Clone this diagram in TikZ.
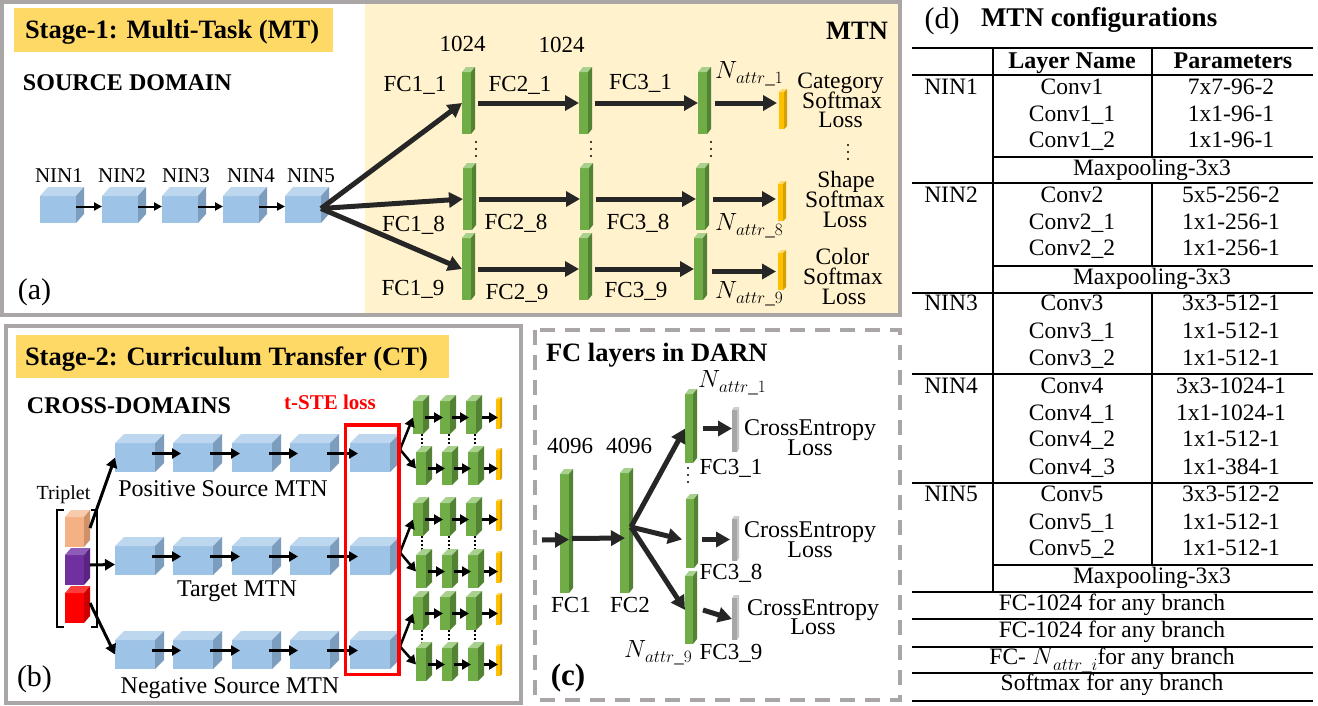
\documentclass[tikz,border=0pt]{standalone}
\usepackage{amsmath}
\usepackage{fontspec}
\setmainfont{Liberation Serif}
\usetikzlibrary{arrows.meta}

\definecolor{bordergray}{RGB}{170,166,166}
\definecolor{hdr}{RGB}{255,217,102}
\definecolor{mtnbg}{RGB}{255,242,204}
\definecolor{bluefront}{RGB}{157,195,230}
\definecolor{bluetop}{RGB}{189,215,238}
\definecolor{blueside}{RGB}{125,157,190}
\definecolor{greenfront}{RGB}{112,173,71}
\definecolor{greentop}{RGB}{169,209,142}
\definecolor{greenside}{RGB}{84,130,53}
\definecolor{yelfront}{RGB}{255,192,0}
\definecolor{yeltop}{RGB}{255,217,102}
\definecolor{yelside}{RGB}{214,160,0}
\definecolor{grayfront}{RGB}{166,166,166}
\definecolor{graytop}{RGB}{205,205,205}
\definecolor{grayside}{RGB}{196,196,196}
\definecolor{orgfront}{RGB}{244,177,131}
\definecolor{orgtop}{RGB}{248,203,173}
\definecolor{orgside}{RGB}{207,145,105}
\definecolor{purfront}{RGB}{112,48,160}
\definecolor{purtop}{RGB}{142,92,184}
\definecolor{purside}{RGB}{90,36,130}
\definecolor{redfront}{RGB}{255,0,0}
\definecolor{redtop}{RGB}{255,60,60}
\definecolor{redside}{RGB}{204,0,0}
\definecolor{darkarrow}{RGB}{38,38,38}

% name, x, y, w, h, dx, dy, colour set
\newcommand{\mkblock}[8]{%
  \node[inner sep=0pt, outer sep=0pt, minimum width=#4pt, minimum height=#5pt, fill=#8front, anchor=north west] (#1) at (#2,#3) {};
  \fill[#8top] (#1.north west) -- ++(#6,-#7) -- ++(#4,0) -- (#1.north east) -- cycle;
  \fill[#8side] (#1.north east) -- ++(#6,-#7) -- ++(0,#5) -- (#1.south east) -- cycle;
}
\newcommand{\Nattr}[1]{$N$\kern-1pt\raisebox{-5.5pt}{\fontsize{19}{19}\selectfont$attr\_#1$}}

\tikzset{
  lbl/.style={inner sep=0pt, outer sep=0pt, text depth=0pt},
  fA/.style={lbl, font=\fontsize{20}{20}\selectfont, text height=13.2pt},
  fB/.style={lbl, font=\fontsize{21}{21}\selectfont, text height=13.9pt},
  fC/.style={lbl, font=\fontsize{23}{23}\selectfont, text height=15.2pt},
  fD/.style={lbl, font=\fontsize{23.5}{23.5}\selectfont, text height=15.6pt},
  fE/.style={lbl, font=\fontsize{24}{24}\selectfont, text height=15.9pt},
  fP/.style={lbl, font=\fontsize{30}{30}\selectfont, text height=19.9pt},
  bB/.style={lbl, font=\fontsize{21}{21}\selectfont\bfseries, text height=14.2pt},
  bE/.style={lbl, font=\fontsize{24}{24}\selectfont\bfseries, text height=16.2pt},
  bF/.style={lbl, font=\fontsize{26.5}{26.5}\selectfont\bfseries, text height=17.9pt},
  bG/.style={lbl, font=\fontsize{27}{27}\selectfont\bfseries, text height=18.3pt},
  bP/.style={lbl, font=\fontsize{31}{31}\selectfont\bfseries, text height=21pt},
  mth/.style={inner sep=0pt, outer sep=0pt, font=\fontsize{24}{24}\selectfont, anchor=base west},
  arrA/.style={-{Triangle[length=8pt,width=8pt]}, line width=2pt, black},
  arrB/.style={-{Triangle[length=9pt,width=10pt]}, line width=2.5pt, black},
  arrTri/.style={-{Triangle[length=10pt,width=11pt]}, line width=3pt, black},
  arrT/.style={-{Triangle[length=14pt,width=15pt]}, line width=5pt, darkarrow},
  dotln/.style={black, line width=1.5pt, dash pattern=on 1.5pt off 2.5pt},
  hrule/.style={black, line width=1.6pt},
  vrule/.style={black, line width=1.3pt},
}

\begin{document}
\begin{tikzpicture}[x=1pt,y=-1pt]
\useasboundingbox (0,0) rectangle (1318,705);
\fill[white] (0,0) rectangle (1318,705);

% ================= Panel (a) =================
\fill[mtnbg] (365,4) rectangle (898,313);
\draw[bordergray, line width=4pt] (2,2) rectangle (900,315);
\fill[hdr] (14,8) rectangle (333,52);
\node[bF, anchor=west] (h1) at (25,30) {Stage-1: Multi-Task (MT)};
\node[bE, anchor=west] (sd) at (23,82) {SOURCE DOMAIN};
\node[bF] (mtn) at (857,31) {MTN};
\node[fP] (la) at (34.5,290) {(a)};

\foreach \i/\x in {1/40,2/102,3/162,4/223,5/285} {\mkblock{n\i}{\x}{196}{36}{27}{8}{9}{blue}}
\foreach \i/\x in {1/59,2/122,3/186,4/251,5/311} {\node[fB] (nl\i) at (\x,176) {NIN\i};}
\foreach \i/\j in {1/2,2/3,3/4,4/5} {\draw[arrA] ([yshift=3pt]n\i.east) -- ([yshift=3pt]n\j.west);}

% FC bars
\mkblock{fa1}{462}{72}{9}{62}{4}{5}{green}
\mkblock{fb1}{579}{72}{9}{62}{4}{5}{green}
\mkblock{fc1}{698}{72}{9}{62}{4}{5}{green}
\mkblock{fa8}{463}{168}{9}{62}{4}{5}{green}
\mkblock{fb8}{580}{168}{9}{62}{4}{5}{green}
\mkblock{fc8}{696}{168}{9}{62}{4}{5}{green}
\mkblock{fa9}{462}{238}{9}{62}{4}{5}{green}
\mkblock{fb9}{579}{238}{9}{62}{4}{5}{green}
\mkblock{fc9}{694}{238}{9}{62}{4}{5}{green}
\mkblock{ls1}{779}{92}{5}{37}{3}{3}{yel}
\mkblock{ls8}{778}{184}{5}{37}{3}{3}{yel}
\mkblock{ls9}{778}{253}{5}{37}{3}{3}{yel}

\draw[arrT] ([yshift=1pt]n5.east) -- (fa1.west);
\draw[arrT] ([yshift=1pt]n5.east) -- (fa8.west);
\draw[arrT] ([yshift=1pt]n5.east) -- (fa9.west);
\foreach \r in {1,8,9} {
  \draw[arrT] ([xshift=7pt]fa\r.east) -- (fb\r.west);
  \draw[arrT] ([xshift=7pt]fb\r.east) -- (fc\r.west);
}
\coordinate (e1) at (ls1.west |- fc1.east);
\coordinate (e8) at (ls8.west |- fc8.east);
\coordinate (s9) at (fc9.east |- ls9.west);
\draw[arrT] ([xshift=8pt]fc1.east) -- ([xshift=-2pt]e1);
\draw[arrT] ([xshift=8pt]fc8.east) -- ([xshift=-2pt]e8);
\draw[arrT] ([xshift=9pt]s9) -- ([xshift=-2pt]ls9.west);

\foreach \x in {476,591,711} {\foreach \y in {142,149,156} {\fill (\x,\y) circle (1.1);}}
\foreach \y in {145,152,159} {\fill (848,\y) circle (1.1);}

\node[fC] (k1) at (462.5,43.5) {1024};
\node[fC] (k2) at (561.5,45) {1024};
\node[fC] (l11) at (415,84) {FC1\_1};
\node[fC] (l21) at (520,84) {FC2\_1};
\node[fC] (l31) at (640.5,82) {FC3\_1};
\node[fC] (l18) at (413.5,223.5) {FC1\_8};
\node[fC] (l28) at (516,222) {FC2\_8};
\node[fC] (l38) at (638,222) {FC3\_8};
\node[fC] (l19) at (413,288) {FC1\_9};
\node[fC] (l29) at (517,292) {FC2\_9};
\node[fC] (l39) at (636,290) {FC3\_9};
\node[mth] (na1) at (715,78) {\Nattr{1}};
\node[mth] (na8) at (715,230) {\Nattr{8}};
\node[mth] (na9) at (715,298) {\Nattr{9}};
\node[fD] (c1a) at (840.5,81) {Category};
\node[fD] (c1b) at (842,100.5) {Softmax};
\node[fD] (c1c) at (840.5,120) {Loss};
\node[fD] (c8a) at (846,180) {Shape};
\node[fD] (c8b) at (845,200) {Softmax};
\node[fD] (c8c) at (845,220) {Loss};
\node[fD] (c9a) at (842.5,257) {Color};
\node[fD] (c9b) at (843,277) {Softmax};
\node[fD] (c9c) at (844,297) {Loss};

% ================= Panel (b) =================
\draw[bordergray, line width=4pt] (6,326) rectangle (521,703);
\fill[hdr] (16,335) rectangle (449,378);
\node[bF, anchor=west] (h2) at (25,357) {Stage-2: Curriculum Transfer (CT)};
\node[bE, anchor=west] (cdm) at (27,405) {CROSS-DOMAINS};
\node[bB, text=red] (tste) at (330,402.5) {t-STE loss};
\node[fP] (lb) at (34.5,677) {(b)};

\foreach \r/\y in {1/443,2/546,3/640} {
  \foreach \i/\x in {1/115,2/173,3/232,4/290,5/350} {\mkblock{c\r\i}{\x}{\y}{40}{29}{9}{9}{blue}}
  \foreach \i/\j in {1/2,2/3,3/4,4/5} {\draw[arrB] ([xshift=-3pt,yshift=4pt]c\r\i.east) -- ([xshift=8pt,yshift=4pt]c\r\j.west);}
}
\node[fE] (pos) at (223,489) {Positive Source MTN};
\node[fE] (tgt) at (237,589) {Target MTN};
\node[fE] (neg) at (230,686) {Negative Source MTN};

% triplet
\node[fA] (tp) at (63.5,493) {Triplet};
\mkblock{t1}{65}{517}{19}{30}{6}{7}{org}
\mkblock{t2}{65}{555}{19}{30}{6}{7}{pur}
\mkblock{t3}{65}{593}{19}{30}{6}{7}{red}
\draw[line width=2.5pt] (64,510) -- (57,510) -- (57,627) -- (64,627);
\draw[line width=2.5pt] (91,510) -- (97,510) -- (97,627) -- (91,627);
\draw[arrTri] ([xshift=6pt,yshift=4pt]t1.east) -- (c11.west);
\draw[arrTri] ([xshift=6pt,yshift=5pt]t2.east) -- ([yshift=-4pt]c21.west);
\draw[arrTri] ([xshift=6pt,yshift=5pt]t3.east) -- (c31.west);

% green branches
\foreach \g/\ya/\yb in {1/401/452,2/503/555,3/597/648} {
  \foreach \i/\xa/\xb in {1/413/416,2/440/442,3/466/468} {
    \draw[dotln] ({\xa+9},{\ya+33}) -- ({\xa+9},{\yb-1});
  }
}
\foreach \g/\ya/\yb in {1/401/452,2/503/555,3/597/648} {
  \foreach \i/\xa/\xb in {1/413/416,2/440/442,3/466/468} {
    \mkblock{ga\g\i}{\xa}{\ya}{10}{33}{6}{6}{green}
    \mkblock{gb\g\i}{\xb}{\yb}{10}{33}{6}{6}{green}
  }
  \mkblock{yya\g}{496}{\ya-2}{4}{30}{2}{2}{yel}
  \mkblock{yyb\g}{496}{\yb-2}{4}{30}{2}{2}{yel}
}
\foreach \g in {1,2,3} {
  \foreach \s in {a,b} {
    \draw[arrB] ([xshift=2pt]g\s\g1.east) -- ([xshift=3pt]g\s\g2.west);
    \draw[arrB] ([xshift=2pt]g\s\g2.east) -- ([xshift=3pt]g\s\g3.west);
    \coordinate (q\s\g) at (yy\s\g.west |- g\s\g3.east);
    \draw[arrB] ([xshift=6pt]g\s\g3.east) -- ([xshift=2pt]q\s\g);
  }
  \coordinate (bs\g) at ([xshift=10pt,yshift=8pt]c\g5.east);
  \draw[arrB] (bs\g) -- (ga\g1.west);
  \draw[arrB] (bs\g) -- (gb\g1.west);
}
\draw[red, line width=3.5pt] (345.5,425) rectangle (399,674.5);

% ================= Panel (c) =================
\draw[bordergray, line width=4.5pt, dash pattern=on 15pt off 10pt] (535,330) rectangle (900,700);
\node[bF, anchor=west] (fcd) at (546,353) {FC layers in DARN};
\node[bP] (lc) at (568,675) {(c)};
\mkblock{d1}{560}{474}{9}{119}{4}{5}{green}
\mkblock{d2}{620}{473}{9}{120}{4}{5}{green}
\mkblock{d31}{685}{394}{8}{69}{4}{5}{green}
\mkblock{d38}{686}{499}{8}{69}{4}{5}{green}
\mkblock{d39}{685}{576}{8}{68}{4}{5}{green}
\mkblock{g1}{732}{410}{5}{42}{2}{3}{gray}
\mkblock{g2}{732}{519}{5}{42}{2}{3}{gray}
\mkblock{g3}{732}{598}{5}{42}{2}{3}{gray}
\foreach \y in {468,475,482} {\fill (688,\y) circle (1.1);}

\coordinate (cin) at (542,540);
\draw[arrT] (cin) -- ([yshift=-6pt]d1.east);
\draw[arrT] ([xshift=3pt,yshift=-5pt]d1.east) -- ([xshift=5pt,yshift=-5pt]d2.west);
\draw[arrT] ([xshift=2pt,yshift=6pt]d2.east) -- (d31.west);
\draw[arrT] ([xshift=2pt,yshift=6pt]d2.east) -- ([xshift=-4pt,yshift=-6pt]d38.west);
\draw[arrT] ([xshift=2pt,yshift=6pt]d2.east) -- (d39.west);
\coordinate (w1) at (g1.west |- d31.east);
\coordinate (w8) at (g2.west |- d38.east);
\draw[arrT] ([xshift=10pt]d31.east) -- (w1);
\draw[arrT] ([xshift=8pt,yshift=-6pt]d38.east) -- ([xshift=-2pt,yshift=-6pt]w8);
\draw[arrT] ([xshift=10pt]d39.east) -- (g3.west);

\node[fC] (x1) at (570,446) {4096};
\node[fC] (x2) at (629,446) {4096};
\node[fC] (q1) at (571,605) {FC1};
\node[fC] (q2) at (630,605) {FC2};
\node[fC] (q31) at (731,467) {FC3\_1};
\node[fC] (q38) at (731,572) {FC3\_8};
\node[fC] (q39) at (731,652) {FC3\_9};
\node[mth] (m1) at (698,387) {\Nattr{1}};
\node[mth] (m9) at (624,657) {\Nattr{9}};
\node[fE] (ce1) at (810,428) {CrossEntropy};
\node[fE] (ce1b) at (810,448) {Loss};
\node[fE] (ce2) at (810,530) {CrossEntropy};
\node[fE] (ce2b) at (810,550) {Loss};
\node[fE] (ce3) at (813,608) {CrossEntropy};
\node[fE] (ce3b) at (813,627) {Loss};

% ================= Panel (d) table =================
\node[fP] (ld) at (942,19) {(d)};
\node[bG, anchor=west] (mc) at (981,17) {MTN configurations};
\foreach \y in {48,75,183,293,374,483,592,619,647,673,701} {\draw[hrule] (912,\y) -- (1313,\y);}
\foreach \y in {157,266,565} {\draw[hrule] (993,\y) -- (1313,\y);}
\draw[vrule] (993,48) -- (993,592);
\draw[vrule] (1152,48) -- (1152,157);
\draw[vrule] (1152,183) -- (1152,266);
\draw[vrule] (1152,293) -- (1152,565);
\node[bE] (hl) at (1072,60) {Layer Name};
\node[bE] (hp) at (1233,60) {Parameters};
\foreach \i/\y in {1/87,2/195,3/303,4/386,5/494} {\node[fD] (tn\i) at (951,\y) {NIN\i};}
\foreach \y/\a/\b [count=\k] in {87/Conv1/7x7-96-2,114/Conv1\_1/1x1-96-1,140/Conv1\_2/1x1-96-1,195/Conv2/5x5-256-2,222/Conv2\_1/1x1-256-1,248/Conv2\_2/1x1-256-1,303/Conv3/3x3-512-1,331/Conv3\_1/1x1-512-1,358/Conv3\_2/1x1-512-1,386/Conv4/3x3-1024-1,413/Conv4\_1/1x1-1024-1,439/Conv4\_2/1x1-512-1,467/Conv4\_3/1x1-384-1,494/Conv5/3x3-512-2,522/Conv5\_1/1x1-512-1,548/Conv5\_2/1x1-512-1}
  {\node[fD] (ly\k) at (1072,\y) {\a}; \node[fD] (pm\k) at (1231,\y) {\b};}
\foreach \y [count=\k] in {168,277,576} {\node[fD] (mp\k) at (1152,\y) {Maxpooling-3x3};}
\node[fD] (r1) at (1112,603) {FC-1024 for any branch};
\node[fD] (r2) at (1112,630) {FC-1024 for any branch};
\node[fD] (r3) at (1112,657) {FC- \Nattr{i}for any branch};
\node[fD] (r4) at (1112,683) {Softmax for any branch};
\end{tikzpicture}
\end{document}
